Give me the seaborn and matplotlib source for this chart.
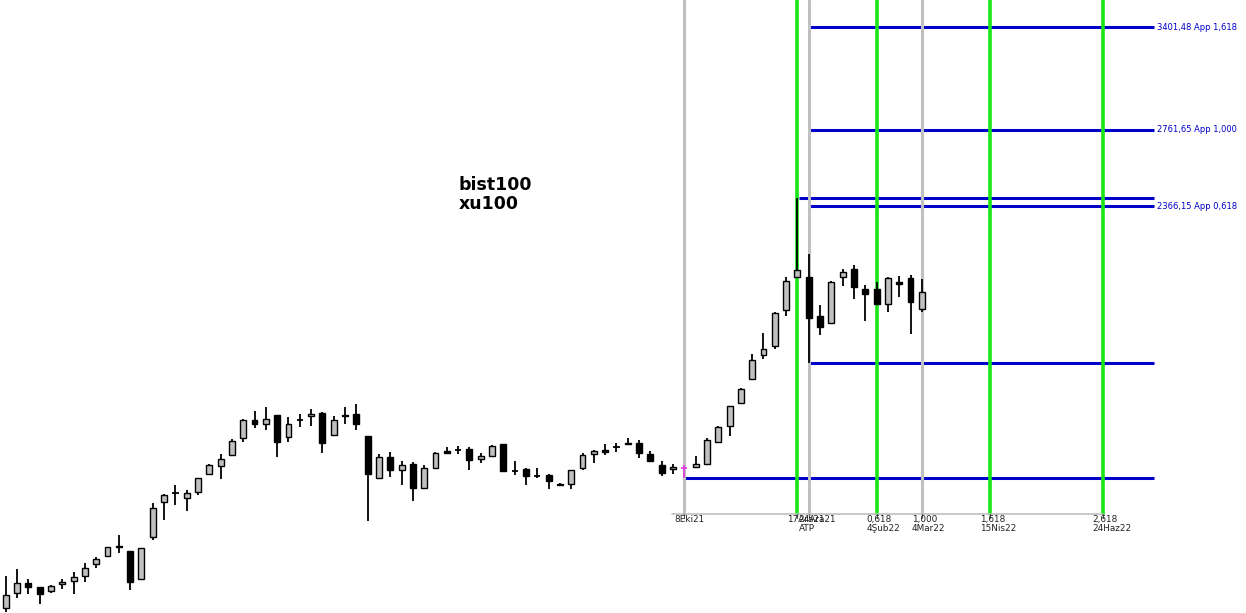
import numpy as np
import pandas as pd
import matplotlib
matplotlib.use("Agg")
import matplotlib.pyplot as plt
import matplotlib.transforms as mtransforms
import seaborn as sns

# ---------------- data ----------------
start_date = "2020-08-14"   # weekly candles
opens = [1047.7, 1078.8, 1101.5, 1091.9, 1083.1, 1098.6, 1105.3, 1116.5, 1144.1, 1162.7,
         1187.4, 1175.3, 1111.1, 1208.5, 1297.3, 1321.2, 1307.9, 1323.9, 1373.2, 1395.6,
         1427.1, 1477.2, 1532.1, 1519.7, 1548.7, 1480.2, 1532.1, 1544.6, 1555.0, 1486.2,
         1548.7, 1551.9, 1484.1, 1363.7, 1421.3, 1386.1, 1402.2, 1336.4, 1391.7, 1439.6,
         1442.5, 1444.6, 1417.3, 1425.9, 1459.3, 1382.4, 1388.0, 1369.3, 1371.2, 1347.3,
         1347.3, 1391.7, 1430.0, 1442.5, 1452.2, 1464.1, 1462.3, 1430.0, 1399.3, 1387.2,
         1391.7, 1394.7, 1403.0, 1467.0, 1515.4, 1585.9, 1667.0, 1748.0, 1780.2, 1915.0,
         2047.6, 2047.6, 1893.0, 1867.4, 2047.6, 2081.1, 1999.6, 1999.6, 1940.8, 2026.9,
         2043.4, 1918.9]
highs = [1117.2, 1133.2, 1110.4, 1093.0, 1096.4, 1109.8, 1126.3, 1147.1, 1161.1, 1185.0,
         1214.1, 1176.0, 1182.5, 1294.7, 1319.4, 1342.9, 1329.3, 1363.0, 1402.2, 1430.8,
         1476.0, 1535.3, 1560.4, 1573.0, 1550.0, 1541.5, 1551.9, 1566.7, 1559.1, 1544.6,
         1573.0, 1583.6, 1485.0, 1430.8, 1436.7, 1410.7, 1407.9, 1399.3, 1436.7, 1452.2,
         1455.2, 1451.3, 1432.9, 1457.3, 1460.0, 1410.7, 1390.0, 1390.0, 1374.0, 1348.0,
         1386.1, 1434.6, 1442.5, 1461.1, 1464.1, 1479.0, 1472.1, 1439.6, 1410.7, 1402.2,
         1398.5, 1425.1, 1477.2, 1515.4, 1578.2, 1634.9, 1753.7, 1827.7, 1908.4, 2048.8,
         2404.8, 2146.7, 1935.7, 2032.3, 2083.6, 2098.0, 2014.6, 2026.9, 2047.6, 2053.0,
         2055.9, 2040.5]
lows = [1038.6, 1069.2, 1076.6, 1056.2, 1078.8, 1088.8, 1077.9, 1104.4, 1136.2, 1162.0,
        1171.3, 1086.6, 1110.5, 1202.6, 1252.4, 1290.3, 1275.5, 1316.7, 1373.0, 1361.0,
        1426.5, 1467.0, 1509.2, 1503.2, 1423.0, 1465.2, 1512.3, 1515.4, 1434.6, 1485.5,
        1519.7, 1503.2, 1249.8, 1362.0, 1366.5, 1344.5, 1301.5, 1335.5, 1391.0, 1432.9,
        1430.8, 1385.2, 1404.2, 1425.0, 1379.6, 1371.2, 1343.7, 1363.7, 1333.7, 1343.0,
        1332.8, 1385.2, 1404.2, 1427.1, 1437.5, 1456.4, 1420.2, 1407.9, 1368.4, 1373.2,
        1362.1, 1390.0, 1401.3, 1465.2, 1484.1, 1582.6, 1666.0, 1736.0, 1771.6, 1894.2,
        2046.0, 1721.0, 1822.5, 1861.4, 2011.8, 1958.2, 1875.0, 1934.5, 1907.3, 1968.6,
        1824.0, 1909.6]
closes = [1075.0, 1101.5, 1093.2, 1077.9, 1094.1, 1103.7, 1115.0, 1134.8, 1155.7, 1184.2,
          1184.2, 1104.4, 1181.8, 1281.6, 1315.9, 1321.2, 1321.2, 1362.1, 1398.5, 1417.3,
          1468.2, 1532.1, 1519.7, 1535.3, 1467.0, 1519.7, 1532.1, 1551.9, 1464.1, 1532.1,
          1544.6, 1521.5, 1374.8, 1421.3, 1386.1, 1398.5, 1336.4, 1390.0, 1432.9, 1434.6,
          1442.5, 1413.6, 1425.1, 1454.3, 1382.4, 1382.4, 1369.3, 1369.3, 1355.5, 1343.7,
          1384.4, 1428.0, 1439.6, 1437.5, 1452.2, 1461.5, 1432.9, 1410.7, 1377.6, 1392.8,
          1391.7, 1401.3, 1472.1, 1512.3, 1576.2, 1631.5, 1730.3, 1769.4, 1903.4, 2031.0,
          2078.1, 1886.5, 1852.4, 2028.2, 2068.4, 2008.9, 1980.6, 1940.8, 2043.4, 2021.2,
          1948.7, 1986.2]

marker_date = "2021-10-08"          # pink candle / start of study
gray_line_dates = ["2021-10-08", "2021-12-24", "2022-03-04"]
green_line_dates = ["2021-12-17", "2022-02-04", "2022-04-15", "2022-06-24"]

date_label_dates = ["2021-10-08", "2021-12-17", "2021-12-24", "2022-02-04",
                    "2022-03-04", "2022-04-15", "2022-06-24"]
date_label_top = ["8Eki21", "17Ara21", "24Ara21", "0,618", "1,000", "1,618", "2,618"]
date_label_bottom = ["", "", "ATP", "4Şub22", "4Mar22", "15Nis22", "24Haz22"]

level_A = 1363.0      # 8Eki21 low
level_B = 2404.8      # ATP high (17Ara21)
level_C = 1721.0      # 24Ara21 low
fib_values = [3401.48, 2761.65, 2366.15]
fib_labels = ["3401,48 App 1,618", "2761,65 App 1,000", "2366,15 App 0,618"]

title_text = "bist100\nxu100"

# ---------------- drawing ----------------
sns.set_style("white")
plt.rcParams["font.family"] = ["DejaVu Sans"]

dates = pd.date_range(start_date, periods=len(opens), freq="7D")
t0 = dates[0]
def pos(d):
    return (pd.Timestamp(d) - t0).days / 7.0

df = pd.DataFrame({"date": dates, "open": opens, "high": highs,
                   "low": lows, "close": closes})
df["x"] = np.arange(len(df))

fig = plt.figure(figsize=(12.46, 6.13), dpi=100)
ax = fig.add_axes([0, 0, 1, 1])
ax.set_yscale("log")
ax.set_xlim(-0.504, 109.66)
ax.set_ylim(1036.5, 3593.3)
ax.axis("off")

BLUE = "#0000c8"
GREEN = "#19e619"
LGRAY = "#c0c0c0"
line_end = 101.55
axis_y = 1 - 514 / 613.0

# blue horizontal lines
ax.hlines(level_A, pos(marker_date), line_end, color=BLUE, lw=2.2, zorder=1)
ax.hlines(level_B, pos("2021-12-17") + 0.1, line_end, color=BLUE, lw=2.2, zorder=1)
ax.hlines(level_C, pos("2021-12-24"), line_end, color=BLUE, lw=2.2, zorder=1)
for v, lab in zip(fib_values, fib_labels):
    ax.hlines(v, pos("2021-12-24"), line_end, color=BLUE, lw=2.2, zorder=1)
    ax.text(line_end + 0.25, v, lab, color=BLUE, fontsize=6.0,
            va="center", ha="left", zorder=5)

# vertical lines
for d in gray_line_dates:
    ax.axvline(pos(d), ymin=axis_y, ymax=1, color=LGRAY, lw=2.2, zorder=2)
for d in green_line_dates:
    ax.axvline(pos(d), ymin=axis_y, ymax=1, color=GREEN, lw=2.6, zorder=2)

# date axis
ax.plot([pos(marker_date) - 1.05, pos("2022-06-24")], [axis_y, axis_y],
        transform=ax.get_xaxis_transform(), color=LGRAY, lw=1.2, zorder=2)
tick_bot = 1 - 518 / 613.0
for d in date_label_dates:
    ax.plot([pos(d), pos(d)], [axis_y, tick_bot], transform=ax.get_xaxis_transform(),
            color="#555555", lw=0.8, zorder=2)

base = ax.get_xaxis_transform()
lab_trans = mtransforms.offset_copy(base, fig=fig, x=-10, y=0, units="dots")
for d, top, bot in zip(date_label_dates, date_label_top, date_label_bottom):
    ax.text(pos(d), 1 - 515 / 613.0, top, transform=lab_trans, fontsize=6.4,
            ha="left", va="top", color="#222222")
    if bot:
        ax.text(pos(d), 1 - 524 / 613.0, bot, transform=lab_trans, fontsize=6.4,
                ha="left", va="top", color="#222222")

# candles
mk = pos(marker_date)
for _, r in df.iterrows():
    x = r["x"]
    o, h, l, c = r["open"], r["high"], r["low"], r["close"]
    if abs(x - mk) < 1e-6:
        col = "#e040e0"
        ax.vlines(x, l, h, color=col, lw=1.3, zorder=3)
        ax.hlines(o, x - 0.25, x + 0.25, color=col, lw=1.3, zorder=3)
        continue
    ax.vlines(x, l, h, color="black", lw=1.3, zorder=3)
    if c > o:
        ax.bar(x, c - o, bottom=o, width=0.52, color=LGRAY, edgecolor="black",
               linewidth=1.0, zorder=4)
    elif c < o:
        ax.bar(x, o - c, bottom=c, width=0.52, color="black", edgecolor="black",
               linewidth=1.0, zorder=4)
    else:
        ax.hlines(o, x - 0.28, x + 0.28, color="black", lw=1.3, zorder=4)

fig.text(459 / 1246.0, 1 - 176 / 613.0, title_text, fontsize=12.5,
         fontweight="bold", ha="left", va="top", linespacing=1.05, color="black")

fig.savefig("out.png", dpi=100, facecolor="white")
